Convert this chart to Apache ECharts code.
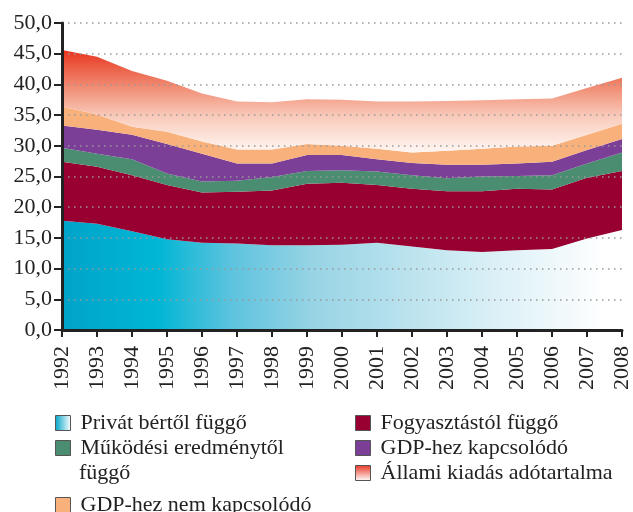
<!DOCTYPE html>
<html>
<head>
<meta charset="utf-8">
<script src="https://cdn.jsdelivr.net/npm/echarts@6/dist/echarts.min.js"></script>
<style>
  html, body { margin: 0; padding: 0; background: #fff; }
  #chart { width: 633px; height: 512px; }
</style>
</head>
<body>
<div id="chart"></div>
<script>
// évek
const years = ['1992','1993','1994','1995','1996','1997','1998','1999','2000','2001','2002','2003','2004','2005','2006','2007','2008'];
// rétegek (GDP %), alulról felfelé
const privatBer   = [17.8,17.3,16.1,14.8,14.2,14.1,13.8,13.8,13.9,14.2,13.6,13.0,12.7,13.0,13.2,14.9,16.3];
const fogyasztas  = [9.6,9.3,9.1,8.8,8.2,8.4,8.9,10.0,10.1,9.4,9.4,9.6,9.9,10.0,9.7,9.9,9.6];
const mukodesi    = [2.3,2.1,2.6,1.9,1.8,1.8,2.2,2.1,2.0,2.2,2.2,2.1,2.4,2.1,2.3,2.3,3.0];
const gdpKapcs    = [3.6,3.9,4.0,4.8,4.5,2.8,2.2,2.6,2.5,2.0,2.0,2.2,1.9,2.0,2.2,2.2,2.2];
const gdpNemKapcs = [3.1,2.5,1.3,2.0,2.0,2.3,2.3,1.8,1.5,1.7,1.7,2.3,2.6,2.8,2.6,2.5,2.5];
const allami      = [9.2,9.4,9.1,8.3,7.8,7.8,7.7,7.3,7.5,7.7,8.3,8.1,7.9,7.7,7.7,7.6,7.5];

const font = 'Liberation Serif';

const cyanGrad = new echarts.graphic.LinearGradient(0, 0, 1, 0, [
  { offset: 0, color: '#00a3c9' },
  { offset: 0.17, color: '#00b6d5' },
  { offset: 0.3, color: '#5cc3de' },
  { offset: 0.45, color: '#98d4e5' },
  { offset: 0.75, color: '#d6eef5' },
  { offset: 0.97, color: '#ffffff' }
]);
const redGrad = new echarts.graphic.LinearGradient(0, 0, 0, 1, [
  { offset: 0, color: '#e8341f' },
  { offset: 0.35, color: '#f08a70' },
  { offset: 0.65, color: '#f9cbbb' },
  { offset: 1, color: '#fff6f2' }
]);
const legendCyan = new echarts.graphic.LinearGradient(0, 0, 1, 0, [
  { offset: 0, color: '#00a3c9' }, { offset: 1, color: '#ffffff' }
]);
const legendRed = new echarts.graphic.LinearGradient(0, 0, 0, 1, [
  { offset: 0, color: '#e8341f' }, { offset: 1, color: '#ffffff' }
]);

const layer = (name, data, color) => ({
  name,
  type: 'line',
  stack: 'ado',
  z: 1,
  data,
  symbol: 'none',
  lineStyle: { width: 0 },
  itemStyle: { color },
  areaStyle: { color, opacity: 1 }
});

// egy jelmagyarázat-elem, abszolút pozícióval
const legendItem = (name, color, left, top) => ({
  left, top,
  padding: 0,
  itemWidth: 15, itemHeight: 15, itemGap: 0,
  icon: 'rect',
  selectedMode: false,
  textStyle: { fontFamily: font, fontSize: 22, color: '#222', padding: [0, 0, 0, 5] },
  data: [{ name, itemStyle: { color, borderColor: '#555', borderWidth: 1 } }],
  formatter: n => n === 'Működési eredménytől függő' ? 'Működési eredménytől' : n
});

const myChart = echarts.init(document.getElementById('chart'));
const option = {
  animation: false,
  grid: { left: 62, right: 10, top: 23, bottom: 182 },
  xAxis: {
    type: 'category',
    data: years,
    boundaryGap: false,
    z: 5,
    axisLine: { lineStyle: { color: '#222', width: 3 } },
    axisTick: { length: 7, lineStyle: { color: '#222', width: 2 } },
    axisLabel: { rotate: 90, margin: 16, fontFamily: font, fontSize: 22, color: '#222' }
  },
  yAxis: {
    type: 'value',
    min: 0, max: 50, interval: 5,
    z: 5,
    axisLine: { show: true, lineStyle: { color: '#222', width: 3 } },
    axisTick: { show: true, length: 8, lineStyle: { color: '#222', width: 2 } },
    axisLabel: {
      margin: 10, fontFamily: font, fontSize: 22, color: '#222',
      formatter: v => v.toFixed(1).replace('.', ',')
    },
    splitLine: { lineStyle: { color: '#999999', type: [1.5, 4.5], width: 1.5 } }
  },
  legend: [
    legendItem('Privát bértől függő', legendCyan, 55, 412),
    legendItem('Működési eredménytől függő', '#4b8d70', 55, 437),
    legendItem('GDP-hez nem kapcsolódó', '#f9b17c', 55, 494),
    legendItem('Fogyasztástól függő', '#970030', 355, 412),
    legendItem('GDP-hez kapcsolódó', '#7c3f97', 355, 437),
    legendItem('Állami kiadás adótartalma', legendRed, 355, 462)
  ],
  graphic: [{
    type: 'text', left: 79, top: 462,
    style: { text: 'függő', fontFamily: font, fontSize: 22, fill: '#222' }
  }],
  series: [
    layer('Privát bértől függő', privatBer, cyanGrad),
    layer('Fogyasztástól függő', fogyasztas, '#970030'),
    layer('Működési eredménytől függő', mukodesi, '#4b8d70'),
    layer('GDP-hez kapcsolódó', gdpKapcs, '#7c3f97'),
    layer('GDP-hez nem kapcsolódó', gdpNemKapcs, '#f9b17c'),
    layer('Állami kiadás adótartalma', allami, redGrad)
  ]
};
myChart.setOption(option);
</script>
</body>
</html>
